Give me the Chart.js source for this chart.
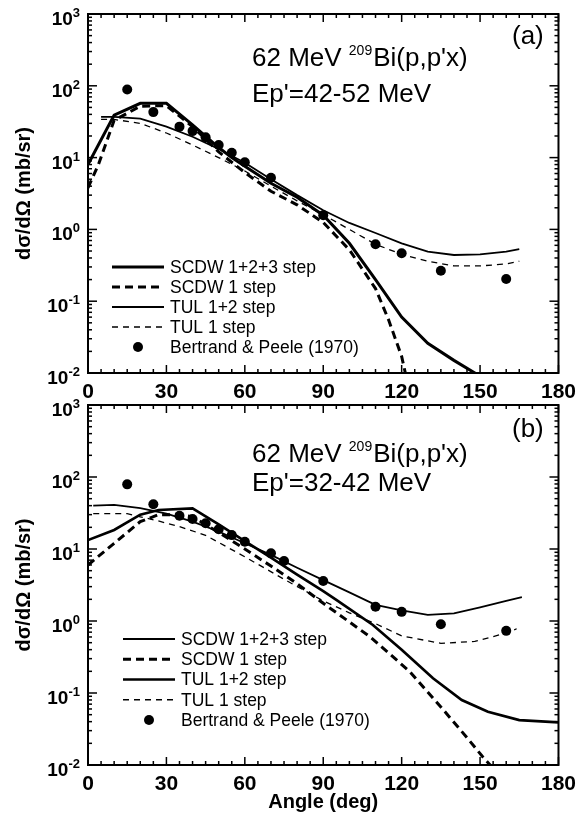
<!DOCTYPE html>
<html>
<head>
<meta charset="utf-8">
<script src="https://cdn.jsdelivr.net/npm/chart.js@4.4.0/dist/chart.umd.min.js"></script>
<style>
body { margin: 0; background: #fff; }
#wrap { position: relative; width: 583px; height: 816px; }
canvas { position: absolute; left: 0; }
</style>
</head>
<body>
<div id="wrap">
<canvas id="chartA" width="583" height="410" style="top:0px"></canvas>
<canvas id="chartB" width="583" height="424" style="top:392px"></canvas>
</div>
<script>
// ---- panel (a): Ep'=42-52 MeV, angles in deg, cross sections in mb/sr
var degA_scdw123 = [0, 10, 20, 30, 40, 50, 55, 60, 70, 80, 90, 100, 110, 120, 130, 140, 149];
var valA_scdw123 = [8, 39, 57, 57, 28.5, 13.8, 10, 7.6, 4.4, 2.8, 1.58, 0.64, 0.2, 0.06, 0.026, 0.015, 0.0095];
var degA_scdw1 = [0, 4, 10, 20, 30, 40, 50, 60, 70, 80, 90, 100, 110, 115, 120, 122];
var valA_scdw1 = [3.8, 8, 33, 52, 53, 27, 12, 6.2, 3.4, 2.2, 1.25, 0.52, 0.15, 0.055, 0.017, 0.008];
var degA_tul12 = [5, 10, 20, 30, 40, 50, 60, 70, 80, 90, 100, 110, 120, 130, 140, 150, 160, 165];
var valA_tul12 = [37, 37, 35, 27, 19.5, 13.2, 8.5, 5.0, 3.0, 1.85, 1.23, 0.89, 0.64, 0.49, 0.44, 0.45, 0.49, 0.53];
var degA_tul1 = [5, 10, 20, 30, 40, 50, 60, 70, 80, 90, 100, 110, 120, 130, 140, 150, 160, 165];
var valA_tul1 = [34, 34, 30, 22, 15, 10, 6.5, 4.0, 2.5, 1.6, 1.0, 0.62, 0.45, 0.36, 0.31, 0.31, 0.33, 0.36];
var expDegA = [15, 25, 35, 40, 45, 50, 55, 60, 70, 90, 110, 120, 135, 160];
var expValA = [89, 43, 27, 23.4, 19.2, 15, 11.7, 8.6, 5.25, 1.58, 0.62, 0.465, 0.266, 0.204];

// ---- panel (b): Ep'=32-42 MeV
var degB_scdw123 = [2, 10, 20, 30, 40, 50, 60, 70, 80, 90, 100, 110, 120, 130, 140, 150, 160, 166];
var valB_scdw123 = [40, 41, 37, 31, 24, 17.5, 12, 8.3, 5.5, 3.7, 2.5, 1.68, 1.4, 1.22, 1.28, 1.55, 1.9, 2.15];
var degB_scdw1 = [0, 10, 20, 27, 35, 40, 50, 60, 70, 80, 90, 100, 108, 115, 123, 136, 145, 151, 155];
var valB_scdw1 = [6, 12, 24, 30, 30, 28, 17, 10, 5.8, 3.3, 1.76, 0.97, 0.6, 0.36, 0.2, 0.058, 0.024, 0.013, 0.009];
var degB_tul12 = [0, 10, 20, 27, 40, 50, 60, 70, 80, 90, 95, 109, 120, 132, 143, 153, 165, 180];
var valB_tul12 = [13.3, 18.4, 30, 34.8, 36.7, 22, 12.9, 7.6, 4.4, 2.6, 1.96, 0.88, 0.4, 0.16, 0.08, 0.055, 0.042, 0.039];
var degB_tul1 = [2, 10, 15, 20, 26, 35, 45, 60, 75, 90, 100, 110, 120, 135, 148, 160, 164];
var valB_tul1 = [31, 31, 31, 28, 25, 20.5, 15.5, 7.8, 3.8, 1.9, 1.3, 0.92, 0.62, 0.49, 0.52, 0.68, 0.78];
var expDegB = [15, 25, 35, 40, 45, 50, 55, 60, 70, 75, 90, 110, 120, 135, 160];
var expValB = [79, 41.8, 29, 26.1, 22.8, 18.8, 15.6, 12.6, 8.7, 6.8, 3.6, 1.58, 1.34, 0.9, 0.73];

var xTicks = [0, 30, 60, 90, 120, 150, 180];
var yDecades = [-2, -1, 0, 1, 2, 3];
var legendLabels = ['SCDW 1+2+3 step', 'SCDW 1 step', 'TUL 1+2 step', 'TUL 1 step', 'Bertrand & Peele (1970)'];

var FONT = 'Arial, "Liberation Sans", Helvetica, sans-serif';

function pts(xs, ys) {
    return xs.map(function (x, i) { return {x: x, y: ys[i]}; });
}

function lineSet(label, xs, ys, width, dash) {
    return {
        label: label, data: pts(xs, ys), showLine: true,
        borderColor: '#000', borderWidth: width, borderDash: dash || [],
        pointRadius: 0, fill: false, tension: 0
    };
}

function dotSet(label, xs, ys) {
    return {
        label: label, data: pts(xs, ys), showLine: false,
        pointRadius: 5, pointBackgroundColor: '#000', pointBorderColor: '#000', pointBorderWidth: 0
    };
}

// frame, inward ticks, 10^n labels, legend and the text in the panel
var panelDeco = {
    id: 'panelDeco',
    afterDraw: function (chart, args, o) {
        var ctx = chart.ctx, a = chart.chartArea, xs = chart.scales.x, ys = chart.scales.y;
        ctx.save();
        ctx.strokeStyle = '#000';
        ctx.fillStyle = '#000';
        ctx.setLineDash([]);

        function seg(x1, y1, x2, y2) {
            ctx.beginPath(); ctx.moveTo(x1, y1); ctx.lineTo(x2, y2); ctx.stroke();
        }

        ctx.lineWidth = 1.5;
        for (var d = 0; d <= 180; d += 5) {
            var px = xs.getPixelForValue(d), len = d % 30 === 0 ? 8 : 4;
            seg(px, a.bottom, px, a.bottom - len);
            seg(px, a.top, px, a.top + len);
        }
        for (var e = -2; e <= 2; e++) {
            for (var m = 1; m <= 9; m++) {
                var py = ys.getPixelForValue(m * Math.pow(10, e)), l2 = m === 1 ? 9 : 4;
                seg(a.left, py, a.left + l2, py);
                seg(a.right, py, a.right - l2, py);
            }
        }
        ctx.lineWidth = 2;
        ctx.strokeRect(a.left, a.top, a.right - a.left, a.bottom - a.top);

        // decade labels
        ctx.textAlign = 'right';
        ctx.textBaseline = 'alphabetic';
        yDecades.forEach(function (n) {
            var py = ys.getPixelForValue(Math.pow(10, n));
            var ex = String(n);
            ctx.font = 'bold 13px ' + FONT;
            var w = ctx.measureText(ex).width;
            ctx.fillText(ex, 80, py + 3);
            ctx.font = 'bold 19px ' + FONT;
            ctx.fillText('10', 80 - w, py + 11);
        });

        // y title
        ctx.save();
        ctx.translate(24, (a.top + a.bottom) / 2);
        ctx.rotate(-Math.PI / 2);
        ctx.textAlign = 'center';
        ctx.textBaseline = 'middle';
        ctx.font = 'bold 20px ' + FONT;
        ctx.fillText('d\u03c3/d\u03a9 (mb/sr)', 0, 0);
        ctx.restore();

        // reaction text
        ctx.textAlign = 'left';
        var tx = 252, b1 = a.top + o.textY[0], b2 = a.top + o.textY[1];
        ctx.font = '26px ' + FONT;
        var s1 = '62 MeV ';
        ctx.fillText(s1, tx, b1);
        var w1 = ctx.measureText(s1).width;
        ctx.font = '14px ' + FONT;
        ctx.fillText('209', tx + w1, b1 - 11);
        var w2 = ctx.measureText('209').width;
        ctx.font = '26px ' + FONT;
        ctx.fillText("Bi(p,p'x)", tx + w1 + w2 + 1, b1);
        ctx.fillText(o.energy, tx, b2);
        ctx.fillText(o.tag, 512, a.top + o.tagY);

        // legend
        ctx.font = '17.5px ' + FONT;
        ctx.textBaseline = 'middle';
        chart.data.datasets.forEach(function (ds, i) {
            var ly = a.top + o.legendY + i * o.legendDy;
            if (ds.showLine) {
                ctx.lineWidth = ds.borderWidth;
                ctx.setLineDash(ds.borderDash);
                seg(o.legendX[0], ly, o.legendX[1], ly);
                ctx.setLineDash([]);
            } else {
                ctx.beginPath();
                ctx.arc((o.legendX[0] + o.legendX[1]) / 2, ly, 5, 0, Math.PI * 2);
                ctx.fill();
            }
            ctx.fillText(ds.label, o.legendX[1] + 6, ly + 1);
        });
        ctx.restore();
    }
};

function makeChart(id, datasets, pad, xHeight, showTitle, deco) {
    return new Chart(document.getElementById(id), {
        type: 'scatter',
        data: {datasets: datasets},
        plugins: [panelDeco],
        options: {
            responsive: false,
            animation: false,
            events: [],
            layout: {padding: pad},
            plugins: {legend: {display: false}, tooltip: {enabled: false}, panelDeco: deco},
            scales: {
                x: {
                    type: 'linear', min: 0, max: 180,
                    grid: {display: false, drawTicks: false},
                    border: {display: false},
                    afterBuildTicks: function (s) { s.ticks = xTicks.map(function (v) { return {value: v}; }); },
                    afterFit: function (s) { s.height = xHeight; },
                    ticks: {color: '#000', padding: 7, maxRotation: 0, autoSkip: false,
                        font: {family: FONT, weight: 'bold', size: 21}},
                    title: {display: showTitle, text: 'Angle (deg)', color: '#000',
                        font: {family: FONT, weight: 'bold', size: 20}, padding: {top: 0, bottom: 2}}
                },
                y: {type: 'logarithmic', min: 0.01, max: 1000, display: false}
            }
        }
    });
}

makeChart('chartA', [
    lineSet(legendLabels[0], degA_scdw123, valA_scdw123, 3, []),
    lineSet(legendLabels[1], degA_scdw1, valA_scdw1, 3, [8, 5]),
    lineSet(legendLabels[2], degA_tul12, valA_tul12, 1.8, []),
    lineSet(legendLabels[3], degA_tul1, valA_tul1, 1.3, [6, 5]),
    dotSet(legendLabels[4], expDegA, expValA)
], {left: 88, right: 19, top: 14, bottom: 0}, 37, false, {
    energy: "Ep'=42-52 MeV", tag: '(a)', textY: [52, 88], tagY: 30,
    legendX: [112, 164], legendY: 253, legendDy: 20
});

makeChart('chartB', [
    lineSet(legendLabels[0], degB_scdw123, valB_scdw123, 1.8, []),
    lineSet(legendLabels[1], degB_scdw1, valB_scdw1, 3, [8, 5]),
    lineSet(legendLabels[2], degB_tul12, valB_tul12, 2.7, []),
    lineSet(legendLabels[3], degB_tul1, valB_tul1, 1.3, [6, 5]),
    dotSet(legendLabels[4], expDegB, expValB)
], {left: 88, right: 18, top: 13, bottom: 0}, 51, true, {
    energy: "Ep'=32-42 MeV", tag: '(b)', textY: [57, 86], tagY: 32,
    legendX: [123, 175], legendY: 234, legendDy: 20.25
});
</script>
</body>
</html>
